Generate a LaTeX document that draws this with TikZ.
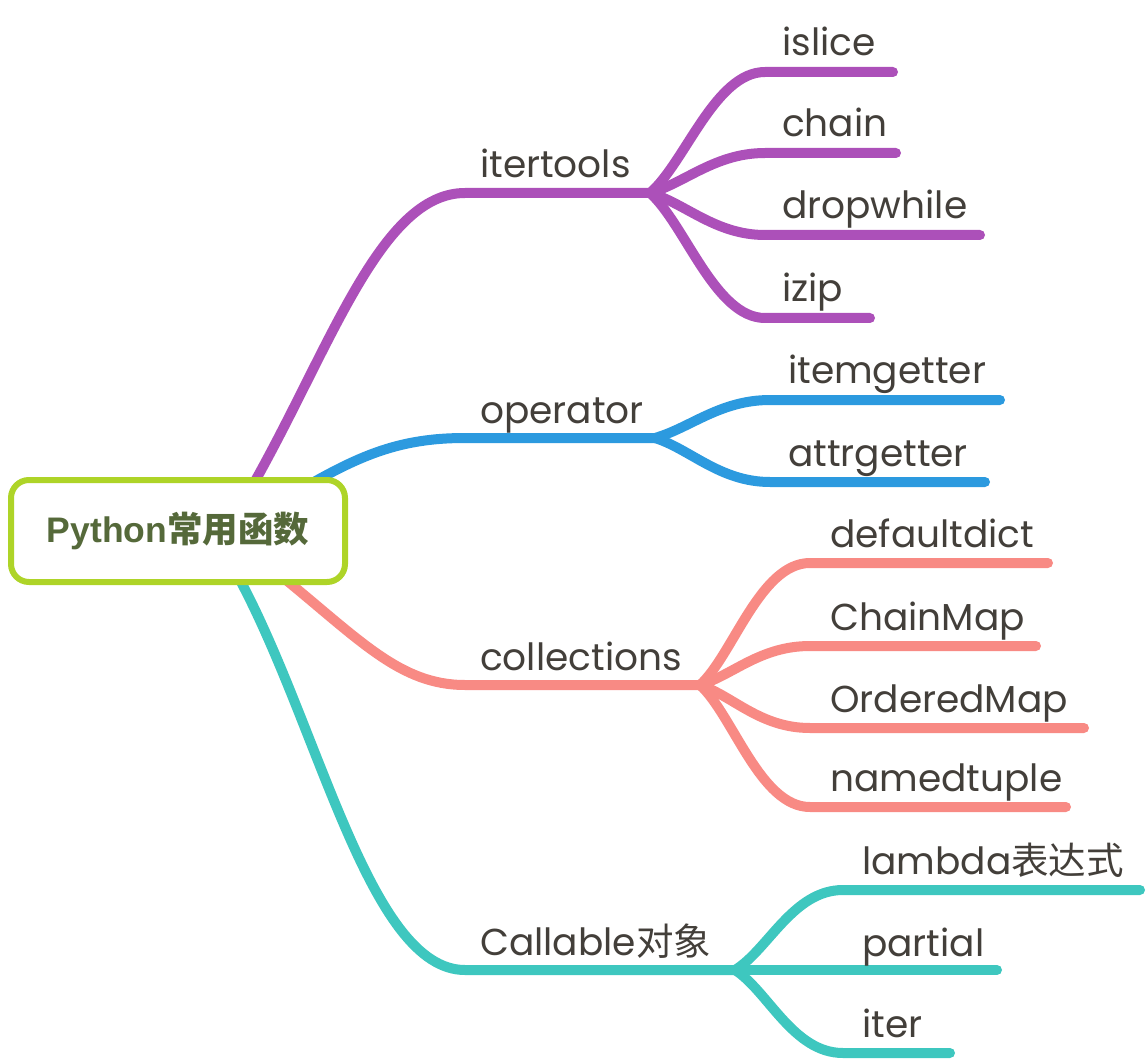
\documentclass[tikz,border=0pt]{standalone}
\usepackage{fontspec}
\setmainfont{Poppins}
\newfontfamily\cjk{Noto Sans CJK SC}
\newfontfamily\rootlat{Liberation Sans}
\definecolor{cpurple}{HTML}{AC50B9}
\definecolor{cblue}{HTML}{2C9ADF}
\definecolor{csalmon}{HTML}{F88A84}
\definecolor{cteal}{HTML}{3EC7BF}
\definecolor{clime}{HTML}{AED428}
\definecolor{croottext}{HTML}{55693A}
\definecolor{ctext}{HTML}{433F3A}
\tikzset{
  lbl/.style={anchor=base west, inner sep=0pt, text=ctext, font=\fontsize{37.5}{42}\selectfont},
  br/.style={line width=10pt, line cap=round},
  rootbox/.style={draw=clime, line width=6pt, fill=white, rounded corners=18pt,
    minimum width=334pt, minimum height=102pt, inner sep=0pt,
    text=croottext, font=\fontsize{35.5}{40}\selectfont\bfseries},
}
\begin{document}
\begin{tikzpicture}[x=1pt,y=-1pt]
\useasboundingbox (0,0) rectangle (1148,1064);

% ---------- coordinates ----------
\coordinate (r1) at (250,490);
\coordinate (r2) at (300,490);
\coordinate (r3) at (280,575);
\coordinate (r4) at (240,580);

\coordinate (b1s) at (465,193); \coordinate (J1) at (650,193);
\coordinate (b2s) at (465,438); \coordinate (J2) at (655,438);
\coordinate (b3s) at (465,685); \coordinate (J3) at (700,685);
\coordinate (b4s) at (465,970); \coordinate (J4) at (735,970);

% ---------- branches from root ----------
\draw[br, cpurple] (r1) .. controls (330,350) and (380,193) .. (b1s) -- (J1);
\draw[br, cblue] (r2) .. controls (360,455) and (400,438) .. (b2s) -- (J2);
\draw[br, csalmon] (r3) .. controls (360,640) and (400,685) .. (b3s) -- (J3);
\draw[br, cteal] (r4) .. controls (320,730) and (370,970) .. (b4s) -- (J4);

% ---------- itertools leaves ----------
\coordinate (l11s) at (765,72);  \coordinate (l11e) at (893,72);
\coordinate (l12s) at (765,153); \coordinate (l12e) at (896,153);
\coordinate (l13s) at (765,235); \coordinate (l13e) at (980,235);
\coordinate (l14s) at (765,318); \coordinate (l14e) at (870,318);
\draw[br, cpurple] (J1) .. controls +(35,-30) and +(-50,0) .. (l11s) -- (l11e);
\draw[br, cpurple] (J1) .. controls +(35,-10) and +(-50,0) .. (l12s) -- (l12e);
\draw[br, cpurple] (J1) .. controls +(35,10) and +(-50,0) .. (l13s) -- (l13e);
\draw[br, cpurple] (J1) .. controls +(35,31) and +(-50,0) .. (l14s) -- (l14e);

% ---------- operator leaves ----------
\coordinate (l21s) at (770,400); \coordinate (l21e) at (1000,400);
\coordinate (l22s) at (770,482); \coordinate (l22e) at (985,482);
\draw[br, cblue] (J2) .. controls +(35,-10) and +(-50,0) .. (l21s) -- (l21e);
\draw[br, cblue] (J2) .. controls +(35,11) and +(-50,0) .. (l22s) -- (l22e);

% ---------- collections leaves ----------
\coordinate (l31s) at (810,563); \coordinate (l31e) at (1048,563);
\coordinate (l32s) at (810,646); \coordinate (l32e) at (1036,646);
\coordinate (l33s) at (810,728); \coordinate (l33e) at (1084,728);
\coordinate (l34s) at (810,807); \coordinate (l34e) at (1066,807);
\draw[br, csalmon] (J3) .. controls +(33,-30) and +(-50,0) .. (l31s) -- (l31e);
\draw[br, csalmon] (J3) .. controls +(33,-10) and +(-50,0) .. (l32s) -- (l32e);
\draw[br, csalmon] (J3) .. controls +(33,11) and +(-50,0) .. (l33s) -- (l33e);
\draw[br, csalmon] (J3) .. controls +(33,30) and +(-50,0) .. (l34s) -- (l34e);

% ---------- Callable leaves ----------
\coordinate (l41s) at (843,890);  \coordinate (l41e) at (1140,890);
\coordinate (l42e) at (997,970);
\coordinate (l43s) at (843,1053); \coordinate (l43e) at (950,1053);
\draw[br, cteal] (J4) .. controls +(33,-20) and +(-50,0) .. (l41s) -- (l41e);
\draw[br, cteal] (J4) -- (l42e);
\draw[br, cteal] (J4) .. controls +(33,21) and +(-50,0) .. (l43s) -- (l43e);

% ---------- labels ----------
\node[lbl] (itertools) at (480,178) {itertools};
\node[lbl] (operator) at (480,423) {operator};
\node[lbl] (collections) at (480,670) {collections};
\node[lbl] (callable) at (480,955) {Callable{\cjk 对象}};

\node[lbl] (islice) at (782,56) {islice};
\node[lbl] (chain) at (782,137) {chain};
\node[lbl] (dropwhile) at (782,219) {dropwhile};
\node[lbl] (izip) at (782,302) {izip};

\node[lbl] (itemgetter) at (788,384) {itemgetter};
\node[lbl] (attrgetter) at (788,466) {attrgetter};

\node[lbl] (defaultdict) at (830,547) {defaultdict};
\node[lbl] (chainmap) at (830,630) {ChainMap};
\node[lbl] (orderedmap) at (830,712) {OrderedMap};
\node[lbl] (namedtuple) at (830,791) {namedtuple};

\node[lbl] (lambda) at (862,874) {lambda{\cjk 表达式}};
\node[lbl] (partial) at (862,956) {partial};
\node[lbl] (iter) at (862,1037) {iter};

% ---------- root ----------
\node[rootbox] (root) at (178,531) {{\rootlat\bfseries Python}{\cjk\bfseries 常用函数}};
\end{tikzpicture}
\end{document}
